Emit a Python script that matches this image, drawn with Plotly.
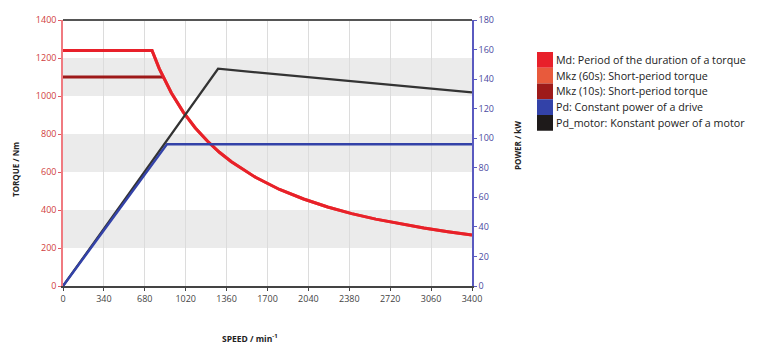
import plotly.graph_objects as go

# Speed (min^-1) and torque (Nm) values
md_speed = [0, 740, 800, 900, 1000, 1100, 1200, 1300, 1400, 1600, 1800, 2000, 2200, 2400, 2600, 2800, 3000, 3200, 3400]
md_torque = [1240, 1240, 1144, 1017, 915, 832, 763, 704, 654, 572, 508, 458, 416, 381, 352, 327, 305, 286, 269]

mkz60_speed = md_speed
mkz60_torque = md_torque

mkz10_speed = [0, 831]
mkz10_torque = [1100, 1100]

# Power (kW)
pd_speed = [0, 865, 3400]
pd_power = [0, 96, 96]

pdm_speed = [0, 1289, 3400]
pdm_power = [0, 147, 131]

x_ticks = [0, 340, 680, 1020, 1360, 1700, 2040, 2380, 2720, 3060, 3400]
torque_ticks = [0, 200, 400, 600, 800, 1000, 1200, 1400]
power_ticks = [0, 20, 40, 60, 80, 100, 120, 140, 160, 180]
band_ranges = [(200, 400), (600, 800), (1000, 1200)]

names = ["Md: Period of the duration of a torque",
         "Mkz (60s): Short-period torque",
         "Mkz (10s): Short-period torque",
         "Pd: Constant power of a drive",
         "Pd_motor: Konstant power of a motor"]
colors = ["#e8202a", "#e85a3c", "#9e1a1a", "#3342a8", "#1e1a1a"]

W, H = 757, 345
OFF = 8  # page body offset
# desired plot area in page pixels: x 63..472, y 20..286
L = 63 - OFF
T = 20 - OFF
R = W - (472 - OFF)
B = H - (286 - OFF)
pw, ph = W - L - R, H - T - B

def px_x(p):
    return (p - OFF - L) / pw

def px_y(p):
    return (H - B - (p - OFF)) / ph

fig = go.Figure()

fig.add_trace(go.Scatter(x=mkz60_speed, y=mkz60_torque, mode="lines", name=names[1],
                         line=dict(color=colors[1], width=3), showlegend=False))
fig.add_trace(go.Scatter(x=mkz10_speed, y=mkz10_torque, mode="lines", name=names[2],
                         line=dict(color=colors[2], width=3), showlegend=False))
fig.add_trace(go.Scatter(x=pdm_speed, y=pdm_power, mode="lines", yaxis="y2", name=names[4],
                         line=dict(color="#333333", width=2.2), showlegend=False))
fig.add_trace(go.Scatter(x=pd_speed, y=pd_power, mode="lines", yaxis="y2", name=names[3],
                         line=dict(color=colors[3], width=2.5), showlegend=False))
fig.add_trace(go.Scatter(x=md_speed, y=md_torque, mode="lines", name=names[0],
                         line=dict(color=colors[0], width=3), showlegend=False))

for lo, hi in band_ranges:
    fig.add_shape(type="rect", xref="paper", yref="y", x0=0, x1=1, y0=lo, y1=hi,
                  fillcolor="#ebebeb", line=dict(width=0), layer="below")

# manual legend (square swatches, text right next to them)
row_h = 15.75
top = 52
for i, (n, c) in enumerate(zip(names, colors)):
    y0 = top + i * row_h
    fig.add_shape(type="rect", xref="paper", yref="paper",
                  x0=px_x(537), x1=px_x(553), y0=px_y(y0 + row_h), y1=px_y(y0),
                  fillcolor=c, line=dict(width=0))
    fig.add_annotation(xref="paper", yref="paper", x=px_x(554), y=px_y(y0 + row_h / 2),
                       text=n, showarrow=False, xanchor="left", yanchor="middle",
                       font=dict(size=10.7, color="#222"))

tick_font = dict(family="Open Sans, Liberation Sans, sans-serif", size=9)

fig.update_layout(
    width=W, height=H,
    margin=dict(l=L, r=R, t=T, b=B),
    paper_bgcolor="white", plot_bgcolor="white",
    font=dict(family="Open Sans, Liberation Sans, sans-serif", size=9, color="#333"),
    showlegend=False,
    xaxis=dict(range=[0, 3400], tickvals=x_ticks, ticktext=[str(v) for v in x_ticks],
               showgrid=True, gridcolor="#dcdcdc", gridwidth=1, automargin=False,
               showline=True, linecolor="#444", linewidth=2, mirror=False,
               ticks="outside", ticklen=3, tickcolor="#444",
               tickfont=dict(tick_font, color="#444"), zeroline=False),
    yaxis=dict(range=[0, 1400], tickvals=torque_ticks, showgrid=False, automargin=False,
               showline=True, linecolor="#f07a80", linewidth=1.5,
               ticks="outside", ticklen=3, tickcolor="#e05a60",
               tickfont=dict(tick_font, color="#d04040"), zeroline=False),
    yaxis2=dict(range=[0, 180], tickvals=power_ticks, overlaying="y", side="right",
                showgrid=False, showline=True, linecolor="#5a5ac0", linewidth=1.5,
                automargin=False,
                ticks="outside", ticklen=3, tickcolor="#5a5ac0",
                tickfont=dict(tick_font, color="#4a4aa0"), zeroline=False),
)

# axis titles
fig.add_annotation(xref="paper", yref="paper", x=px_x(250), y=px_y(338),
                   xanchor="center", yanchor="middle",
                   text="<b>SPEED / min<sup>-1</sup></b>", showarrow=False,
                   font=dict(size=8.5, color="#222"))
fig.add_annotation(xref="paper", yref="paper", x=px_x(15), y=px_y(170),
                   xanchor="center", yanchor="middle",
                   text="<b>TORQUE / Nm</b>", showarrow=False, textangle=-90,
                   font=dict(size=8, color="#222"))
fig.add_annotation(xref="paper", yref="paper", x=px_x(517), y=px_y(145),
                   xanchor="center", yanchor="middle",
                   text="<b>POWER / kW</b>", showarrow=False, textangle=-90,
                   font=dict(size=8, color="#222"))

fig.add_shape(type="line", xref="paper", yref="paper", x0=0, x1=1, y0=1, y1=1,
              line=dict(color="#555", width=2))

fig.write_html("out.html")
